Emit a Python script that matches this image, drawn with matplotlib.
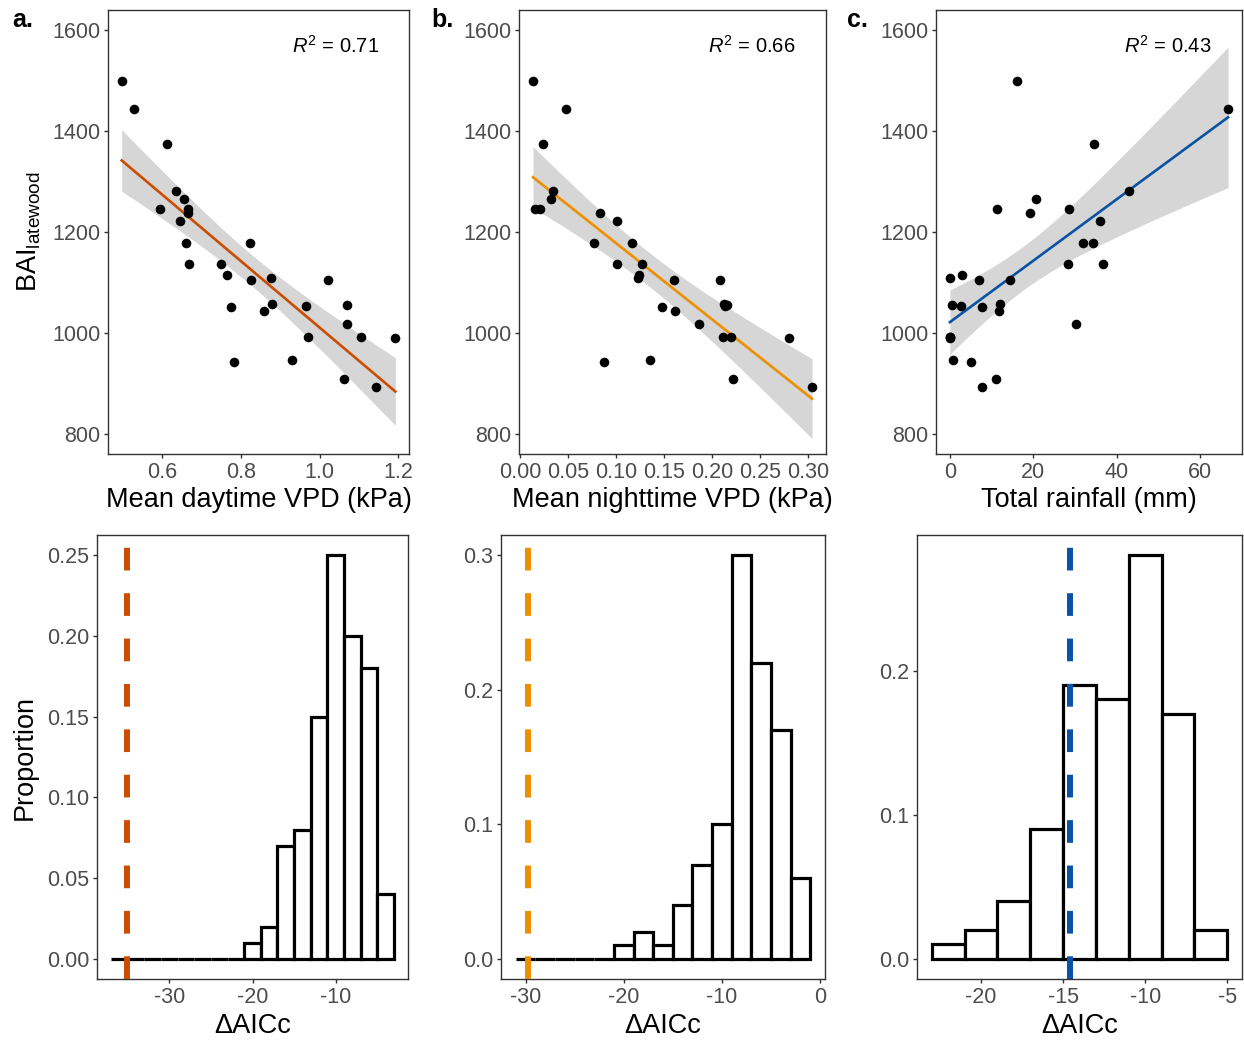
import numpy as np
import matplotlib
matplotlib.use("Agg")
import matplotlib.pyplot as plt

plt.rcParams['font.family'] = ['Liberation Sans', 'DejaVu Sans']
plt.rcParams['mathtext.fontset'] = 'custom'
plt.rcParams['mathtext.rm'] = 'Liberation Sans'
plt.rcParams['mathtext.it'] = 'Liberation Sans:italic'
plt.rcParams['mathtext.bf'] = 'Liberation Sans:bold'
plt.rcParams['axes.unicode_minus'] = False

# ---------------- data ----------------
bai = [1500, 1444, 1374, 1281, 1265, 1245, 1245, 1238, 1221, 1178, 1178, 1137, 1137, 1114, 1109,
       1105, 1104, 1057, 1055, 1054, 1051, 1044, 1017, 991, 991, 990, 946, 942, 909, 892]
vpd_day = [0.498, 0.528, 0.613, 0.636, 0.656, 0.596, 0.667, 0.665, 0.646, 0.661, 0.823, 0.670, 0.750,
           0.765, 0.877, 0.826, 1.022, 0.878, 1.070, 0.966, 0.774, 0.859, 1.069, 0.970, 1.104, 1.192,
           0.930, 0.784, 1.063, 1.143]
vpd_night = [0.013, 0.047, 0.023, 0.034, 0.032, 0.015, 0.020, 0.083, 0.101, 0.077, 0.116, 0.101, 0.127,
             0.124, 0.123, 0.160, 0.208, 0.2125, 0.215, 0.213, 0.148, 0.161, 0.186, 0.211, 0.220, 0.280,
             0.135, 0.0875, 0.222, 0.304]
rainfall = [16.2, 66.7, 34.5, 43.0, 20.6, 11.2, 28.6, 19.1, 36.1, 31.9, 34.2, 28.3, 36.8, 3.0, 0.0,
            7.0, 14.4, 12.1, 0.6, 2.6, 7.7, 11.7, 30.2, 0.0, 0.0, 0.0, 0.8, 5.0, 11.0, 7.8]
r2_labels = ["0.71", "0.66", "0.43"]
x_titles = ["Mean daytime VPD (kPa)", "Mean nighttime VPD (kPa)", "Total rainfall (mm)"]
panel_letters = ["a.", "b.", "c."]
colors = ["#cc4c02", "#ee8f00", "#0a52a3"]

# histogram of null delta AICc (bin width 2), proportions per bin
hist_a_start = -37
hist_a_props = [0, 0, 0, 0, 0, 0, 0, 0, 0.01, 0.02, 0.07, 0.08, 0.15, 0.25, 0.20, 0.18, 0.04]
hist_b_start = -31
hist_b_props = [0, 0, 0, 0, 0, 0.01, 0.02, 0.01, 0.04, 0.07, 0.10, 0.30, 0.22, 0.17, 0.06]
hist_c_start = -23
hist_c_props = [0.01, 0.02, 0.04, 0.09, 0.19, 0.18, 0.28, 0.17, 0.02]
bin_width = 2
observed_daic = [-35.1, -29.8, -14.6]

y_ticks_scatter = [800, 1000, 1200, 1400, 1600]
x_ticks_scatter = [[0.6, 0.8, 1.0, 1.2],
                   [0.00, 0.05, 0.10, 0.15, 0.20, 0.25, 0.30],
                   [0, 20, 40, 60]]
x_ticklabels_scatter = [["0.6", "0.8", "1.0", "1.2"],
                        ["0.00", "0.05", "0.10", "0.15", "0.20", "0.25", "0.30"],
                        ["0", "20", "40", "60"]]
hist_xticks = [[-30, -20, -10], [-30, -20, -10, 0], [-20, -15, -10, -5]]
hist_yticks = [[0, 0.05, 0.10, 0.15, 0.20, 0.25], [0, 0.1, 0.2, 0.3], [0, 0.1, 0.2]]
hist_yticklabels = [["0.00", "0.05", "0.10", "0.15", "0.20", "0.25"],
                    ["0.0", "0.1", "0.2", "0.3"], ["0.0", "0.1", "0.2"]]

# ---------------- layout ----------------
W, H = 1244, 1040
fig = plt.figure(figsize=(W / 100, H / 100), dpi=100)


def add_ax(l, r, t, b):
    return fig.add_axes([l / W, 1 - b / H, (r - l) / W, (b - t) / H])


top_boxes = [(108, 409, 10, 454), (519, 826, 10, 454), (936, 1242, 10, 454)]
bot_boxes = [(97, 408, 535, 979), (501, 825, 535, 979), (917, 1242, 535, 979)]

GRAY_TXT = "#4D4D4D"
GRAY_LINE = "#333333"
TICK_FS = 15.5
TITLE_FS = 19.5


def style(ax):
    for s in ax.spines.values():
        s.set_color(GRAY_LINE)
        s.set_linewidth(1.0)
    ax.tick_params(direction='out', length=3, width=1, color=GRAY_LINE,
                   labelcolor=GRAY_TXT, labelsize=TICK_FS, pad=2.5)


T975 = 2.048  # t quantile for 28 df

xs_all = [vpd_day, vpd_night, rainfall]
for i in range(3):
    ax = add_ax(*top_boxes[i])
    x = np.asarray(xs_all[i], float)
    y = np.asarray(bai, float)
    n = len(x)
    b1, b0 = np.polyfit(x, y, 1)
    grid = np.linspace(x.min(), x.max(), 100)
    yhat = b0 + b1 * grid
    resid = y - (b0 + b1 * x)
    s = np.sqrt(np.sum(resid ** 2) / (n - 2))
    sxx = np.sum((x - x.mean()) ** 2)
    se = s * np.sqrt(1 / n + (grid - x.mean()) ** 2 / sxx)
    ax.fill_between(grid, yhat - T975 * se, yhat + T975 * se, color="#d6d6d6", lw=0, zorder=1)
    ax.plot(grid, yhat, color=colors[i], lw=1.9, zorder=2)
    ax.scatter(x, y, s=48, color="black", lw=0, zorder=3)
    pad = 0.05 * (x.max() - x.min())
    ax.set_xlim(x.min() - pad, x.max() + pad)
    ax.set_ylim(760, 1640)
    ax.set_yticks(y_ticks_scatter)
    ax.set_xticks(x_ticks_scatter[i])
    ax.set_xticklabels(x_ticklabels_scatter[i])
    style(ax)
    ax.set_xlabel(x_titles[i], fontsize=TITLE_FS, color="black")
    ax.xaxis.set_label_coords(0.5, -0.074)
    ax.text(0.90, 0.92, r"$R^2$ = " + r2_labels[i], transform=ax.transAxes,
            ha="right", va="center", fontsize=14.5, color="black")
    if i == 0:
        ax.set_ylabel(r"BAI$_{\mathregular{latewood}}$", fontsize=TITLE_FS, color="black")
        ax.yaxis.set_label_coords(-0.215, 0.5)
    fig.text([12, 431, 847][i] / W, 1 - 27 / H, panel_letters[i], fontsize=18,
             fontweight="bold", ha="left", va="baseline")

hist_starts = [hist_a_start, hist_b_start, hist_c_start]
hist_props = [hist_a_props, hist_b_props, hist_c_props]
for i in range(3):
    ax = add_ax(*bot_boxes[i])
    props = np.asarray(hist_props[i], float)
    lefts = hist_starts[i] + bin_width * np.arange(len(props))
    ax.bar(lefts, props, width=bin_width, align="edge", facecolor="white",
           edgecolor="black", linewidth=2.3, joinstyle="miter", zorder=2)
    ax.axvline(observed_daic[i], color=colors[i], lw=4.3, dashes=(3.8, 3.8), zorder=3)
    lo, hi = lefts[0], lefts[-1] + bin_width
    pad = 0.05 * (hi - lo)
    ax.set_xlim(lo - pad, hi + pad)
    ymax = props.max()
    ax.set_ylim(-0.05 * ymax, 1.05 * ymax)
    ax.set_xticks(hist_xticks[i])
    ax.set_yticks(hist_yticks[i])
    ax.set_yticklabels(hist_yticklabels[i])
    style(ax)
    ax.set_xlabel("ΔAICc", fontsize=TITLE_FS, color="black")
    ax.xaxis.set_label_coords(0.5, -0.077)
    if i == 0:
        ax.set_ylabel("Proportion", fontsize=TITLE_FS, color="black")
        ax.yaxis.set_label_coords(-0.19, 0.5)

fig.savefig("out.png", dpi=100, facecolor="white")
